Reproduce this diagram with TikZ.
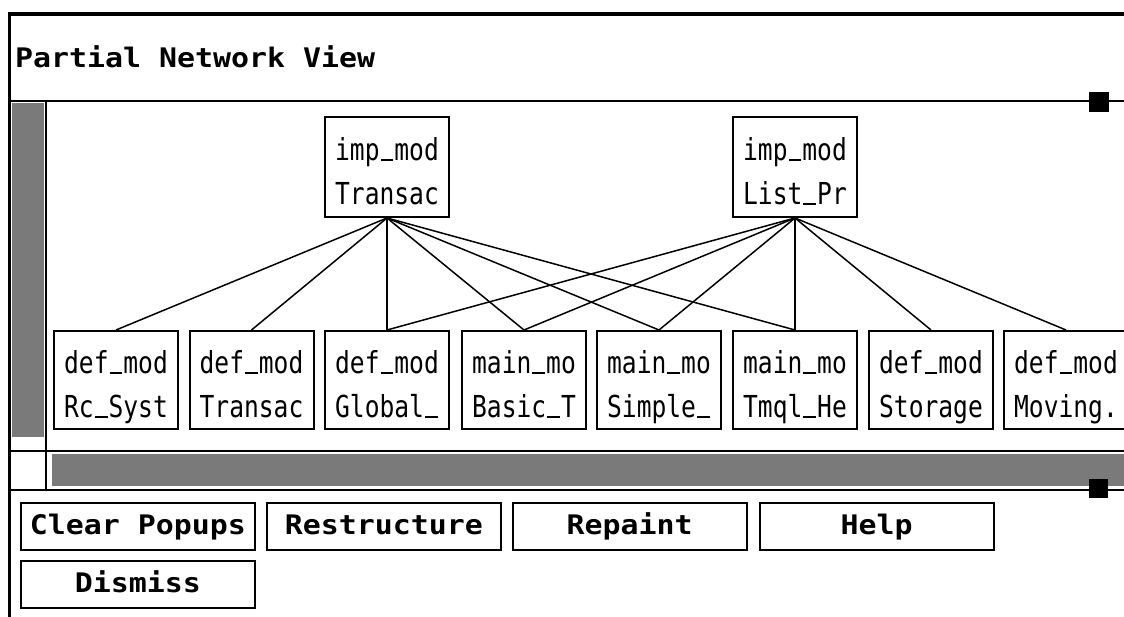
\documentclass[tikz,border=0pt]{standalone}
\usepackage{fontspec}
\newfontfamily\uimono{DejaVu Sans Mono}
\tikzset{
  modbox/.style={draw, line width=2pt, minimum width=124pt, minimum height=98pt, inner sep=0pt, font=\uimono},
  topbox/.style={modbox, minimum height=100pt},
  btnbox/.style={draw, line width=2pt, minimum width=234pt, minimum height=47pt, inner sep=0pt, font=\uimono\bfseries},
  edge/.style={line width=1.5pt},
  rule/.style={line width=2pt},
  stipple/.style={fill=black!52},
}
\newcommand\us{\makebox[0.602em][c]{\rule{0.52em}{0.075em}}}
\newcommand\modtext[2]{\raisebox{-7pt}[\height][\depth]{\scalebox{1}[1.23]{\fontsize{24.6pt}{35.8pt}\selectfont\begin{tabular}{@{}l@{}}#1\\#2\end{tabular}}}}
\newcommand\btntext[1]{\raisebox{1.5pt}[\height][\depth]{\scalebox{1}[0.9]{\fontsize{29.9pt}{36pt}\selectfont\vphantom{HldpÉ}#1}}}
\newcommand\titletext[1]{\scalebox{1}[0.9]{\fontsize{29.9pt}{36pt}\selectfont #1}}
\begin{document}
\begin{tikzpicture}[x=1pt,y=-1pt]
\clip (0,0) rectangle (1124,617);
\fill[white] (0,0) rectangle (1124,617);
% frame
\draw[line width=4pt] (8,14.5) -- (1124,14.5);
\draw[line width=3pt] (9.5,13) -- (9.5,617);
\node[anchor=base west, inner sep=0pt, font=\uimono\bfseries] (title) at (15,68) {\titletext{Partial Network View}};
\draw[rule] (8,101) -- (1124,101);
\fill (1089,92) rectangle (1109,112);
% scroll bars
\fill[stipple] (12,103) rectangle (44,437);
\draw[rule] (46,101) -- (46,490);
\draw[rule] (8,451) -- (1124,451);
\draw[rule] (8,490) -- (1124,490);
\fill[stipple] (52,454) rectangle (1124,486);
\fill (1089,479) rectangle (1108,498);
% module nodes
\node[topbox] (t1) at (387,167) {\modtext{imp\us mod}{Transac}};
\node[topbox] (t2) at (795,167) {\modtext{imp\us mod}{List\us Pr}};
\node[modbox] (b1) at (116,380) {\modtext{def\us mod}{Rc\us Syst}};
\node[modbox] (b2) at (251.5,380) {\modtext{def\us mod}{Transac}};
\node[modbox] (b3) at (387,380) {\modtext{def\us mod}{Global\us}};
\node[modbox] (b4) at (524,380) {\modtext{main\us mo}{Basic\us T}};
\node[modbox] (b5) at (659,380) {\modtext{main\us mo}{Simple\us}};
\node[modbox] (b6) at (795,380) {\modtext{main\us mo}{Tmql\us He}};
\node[modbox] (b7) at (931,380) {\modtext{def\us mod}{Storage}};
\node[modbox] (b8) at (1066,380) {\modtext{def\us mod}{Moving.}};
% edges
\foreach \b in {b1,b2,b3,b4,b5,b6} \draw[edge] (t1.south) -- (\b.north);
\foreach \b in {b3,b4,b5,b6,b7,b8} \draw[edge] (t2.south) -- (\b.north);
% buttons
\node[btnbox] (clear) at (138,526.5) {\btntext{Clear Popups}};
\node[btnbox] (restr) at (384,526.5) {\btntext{Restructure}};
\node[btnbox] (repaint) at (629.5,526.5) {\btntext{Repaint}};
\node[btnbox] (help) at (876.5,526.5) {\btntext{Help}};
\node[btnbox] (dismiss) at (138,584.5) {\btntext{Dismiss}};
\end{tikzpicture}
\end{document}
